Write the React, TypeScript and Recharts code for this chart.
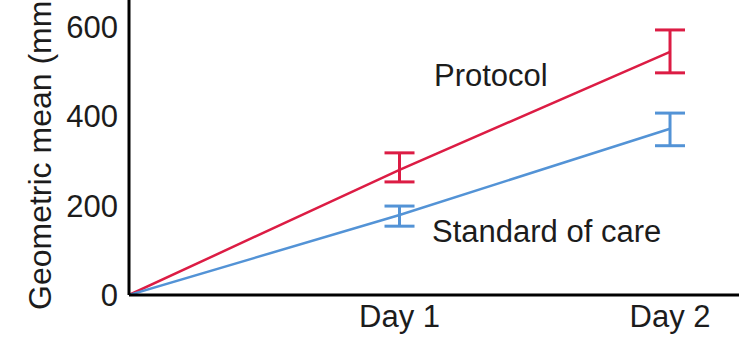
import { LineChart, Line, XAxis, YAxis, ErrorBar, Customized } from "recharts";

const days = [0, 1, 2];
const dayLabels = ["", "Day 1", "Day 2"];
const protocolMean = [0, 280, 544];
const protocolLow = [null, 253, 497];
const protocolHigh = [null, 318, 593];
const standardMean = [0, 179, 372];
const standardLow = [null, 154, 334];
const standardHigh = [null, 199, 407];
const yTicks = [0, 200, 400, 600];

const RED = "#dc1c44";
const BLUE = "#5393d6";
const FONT = "'Liberation Sans', Arial, sans-serif";
const INK = "#1c1c1c";

// error bars take [minus, plus] offsets from the mean
const toError = (mean: number, low: number | null, high: number | null) =>
  low == null || high == null ? null : [mean - low, high - mean];

const data = days.map((day, i) => ({
  day,
  protocol: protocolMean[i],
  protocolErr: toError(protocolMean[i], protocolLow[i], protocolHigh[i]),
  standard: standardMean[i],
  standardErr: toError(standardMean[i], standardLow[i], standardHigh[i]),
}));

const tickStyle = { fontSize: 31, fill: INK, fontFamily: FONT };

function SeriesNames() {
  return (
    <g fontFamily={FONT} fill={INK}>
      <text x={434} y={86} fontSize={31}>Protocol</text>
      <text x={432} y={242} fontSize={31}>Standard of care</text>
      <text x={51} y={310} fontSize={32} transform="rotate(-90 51 310)">
        Geometric mean (mm²)
      </text>
    </g>
  );
}

export default function App() {
  return (
    <div style={{ position: "fixed", left: 0, top: 0, background: "#fff" }}>
      <LineChart width={739} height={338} data={data} margin={{ top: 0, right: 0, bottom: 0, left: 0 }}>
        <XAxis
          dataKey="day"
          type="number"
          domain={[0, 2.255]}
          allowDataOverflow
          ticks={[1, 2]}
          tickFormatter={(v: number) => dayLabels[v] ?? ""}
          height={43}
          axisLine={{ stroke: "#000", strokeWidth: 3 }}
          tickLine={false}
          tickSize={0}
          tickMargin={10}
          tick={tickStyle}
        />
        <YAxis
          type="number"
          domain={[0, 660]}
          allowDataOverflow
          ticks={yTicks}
          width={129}
          axisLine={{ stroke: "#000", strokeWidth: 3 }}
          tickLine={false}
          tickSize={0}
          tickMargin={11}
          tick={tickStyle}
        />
        <Line dataKey="protocol" stroke={RED} strokeWidth={2.5} dot={false} isAnimationActive={false}>
          <ErrorBar dataKey="protocolErr" direction="y" width={15} stroke={RED} strokeWidth={3} isAnimationActive={false} />
        </Line>
        <Line dataKey="standard" stroke={BLUE} strokeWidth={2.5} dot={false} isAnimationActive={false}>
          <ErrorBar dataKey="standardErr" direction="y" width={15} stroke={BLUE} strokeWidth={3} isAnimationActive={false} />
        </Line>
        <Customized component={SeriesNames} />
      </LineChart>
    </div>
  );
}
